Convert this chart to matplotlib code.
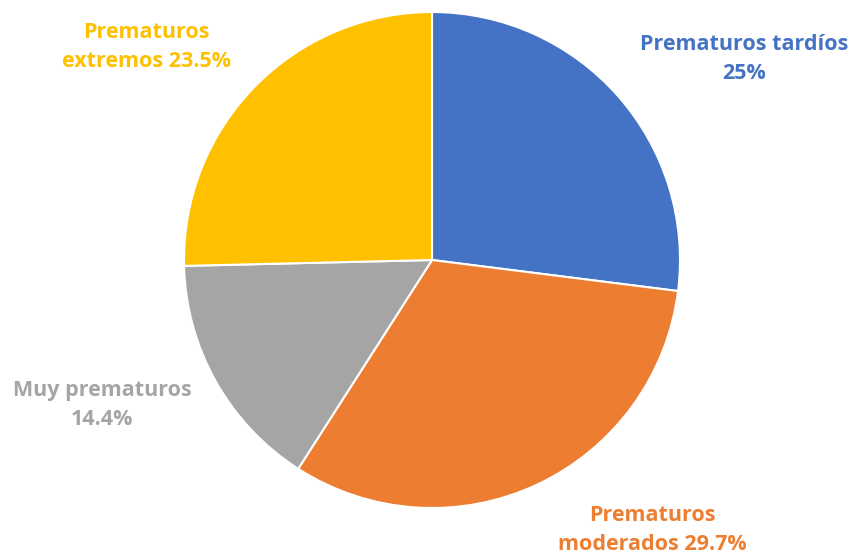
import matplotlib
matplotlib.use("Agg")
import matplotlib.pyplot as plt

# datos del grafico
categorias = ["Prematuros tardíos", "Prematuros\nmoderados", "Muy prematuros", "Prematuros\nextremos"]
porcentajes = [25, 29.7, 14.4, 23.5]
etiquetas = ["Prematuros tardíos\n25%", "Prematuros\nmoderados 29.7%", "Muy prematuros\n14.4%", "Prematuros\nextremos 23.5%"]
colores = ["#4472C4", "#ED7D31", "#A5A5A5", "#FFC000"]

# posiciones de las etiquetas (en radios del pastel)
pos_etiquetas = [(1.26, 0.81), (0.89, -1.09), (-1.33, -0.585), (-1.15, 0.86)]

plt.rcParams['font.family'] = ['Open Sans', 'DejaVu Sans']

fig = plt.figure(figsize=(8.56, 5.59), dpi=100)
W, H = 856, 559
cx, cy, r = 432, 260, 248
ax = fig.add_axes([(cx - r) / W, (H - cy - r) / H, 2 * r / W, 2 * r / H])

ax.pie(porcentajes, colors=colores, startangle=90, counterclock=False,
       wedgeprops=dict(edgecolor="white", linewidth=1.5))
ax.set_xlim(-1, 1)
ax.set_ylim(-1, 1)
ax.set_aspect("equal")
ax.axis("off")

for txt, (x, y), c in zip(etiquetas, pos_etiquetas, colores):
    ax.text(x, y, txt, ha="center", va="center", color=c, fontsize=15.5,
            fontweight="bold", linespacing=1.5)

fig.savefig("out.png", dpi=100)
